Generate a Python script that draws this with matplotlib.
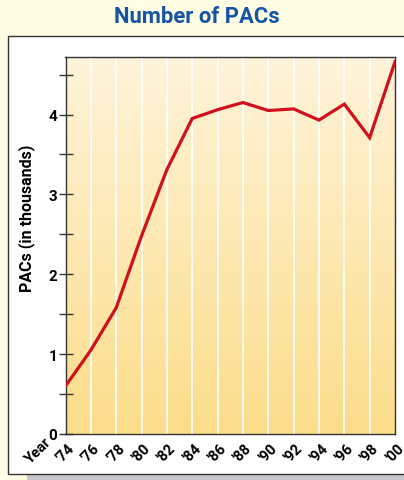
import matplotlib
matplotlib.use("Agg")
import matplotlib.pyplot as plt
import numpy as np
from matplotlib.patches import Rectangle
from matplotlib.colors import LinearSegmentedColormap

years = [1974, 1976, 1978, 1980, 1982, 1984, 1986, 1988, 1990, 1992, 1994, 1996, 1998, 2000]
pacs = [0.60, 1.05, 1.58, 2.48, 3.31, 3.95, 4.06, 4.15, 4.05, 4.07, 3.93, 4.13, 3.71, 4.66]
tick_labels = ["'74", "'76", "'78", "'80", "'82", "'84", "'86", "'88", "'90", "'92", "'94", "'96", "'98", "'00"]

W, H = 404, 481
fig = plt.figure(figsize=(W / 100, H / 100), dpi=100)
fig.patch.set_facecolor("#FFFDE4")

cond = ["Roboto", "DejaVu Sans"]

# shadow and white panel
fig.patches.append(Rectangle((27 / W, 0), 1, 5 / H, transform=fig.transFigure,
                             facecolor="#C9C8CF", edgecolor="none", zorder=-2))
fig.patches.append(Rectangle((8 / W, 1 - 475 / H), 1, (475 - 37) / H, transform=fig.transFigure,
                             facecolor="white", edgecolor="#333333", linewidth=1.0, zorder=-1))

fig.text(197 / W, 1 - 17 / H, "Number of PACs", ha="center", va="center",
         fontsize=15.8, fontweight="bold", color="#1553A3", family=cond)

ax = fig.add_axes([65.5 / W, 1 - 435 / H, (395 - 65.5) / W, (435 - 58) / H])
ymax = 4.72
ax.set_xlim(years[0], years[-1])
ax.set_ylim(0, ymax)

cmap = LinearSegmentedColormap.from_list("g", ["#FBDD8A", "#FFF4DA"])
grad = np.linspace(0, 1, 256).reshape(-1, 1)
ax.imshow(grad, aspect="auto", cmap=cmap, origin="lower",
          extent=[years[0], years[-1], 0, ymax], zorder=0)

for x in years[1:-1]:
    ax.axvline(x, color="white", linewidth=1.2, zorder=1)

ax.plot(years, pacs, color="#D0101C", linewidth=2.3, zorder=3, solid_joinstyle="miter")

for s in ["left", "right", "top", "bottom"]:
    ax.spines[s].set_color("#333333")
    ax.spines[s].set_linewidth(1.0)

ax.set_yticks([0, 1, 2, 3, 4])
ax.set_yticklabels(["0", "1", "2", "3", "4"], fontweight="bold", fontsize=11, family=cond)
ax.set_yticks([0.5, 1.5, 2.5, 3.5, 4.5], minor=True)
ax.tick_params(axis="y", which="both", direction="inout", length=10, width=1.0, color="#333333", pad=1)
ax.tick_params(axis="x", length=0, pad=13)

ax.set_xticks(years)
ax.set_xticklabels(tick_labels, rotation=45, fontweight="bold", fontsize=10.5,
                   ha="center", va="center", rotation_mode="anchor", family=cond)

fig.text(27 / W, 1 - 218 / H, "PACs (in thousands)", rotation=90, ha="center", va="center",
         fontsize=11.5, fontweight="bold", family=cond)

fig.text(38 / W, 1 - 452 / H, "Year", rotation=45, ha="center", va="center",
         fontsize=10.5, fontweight="bold", family=cond)

fig.savefig("out.png", dpi=100, facecolor=fig.get_facecolor())
